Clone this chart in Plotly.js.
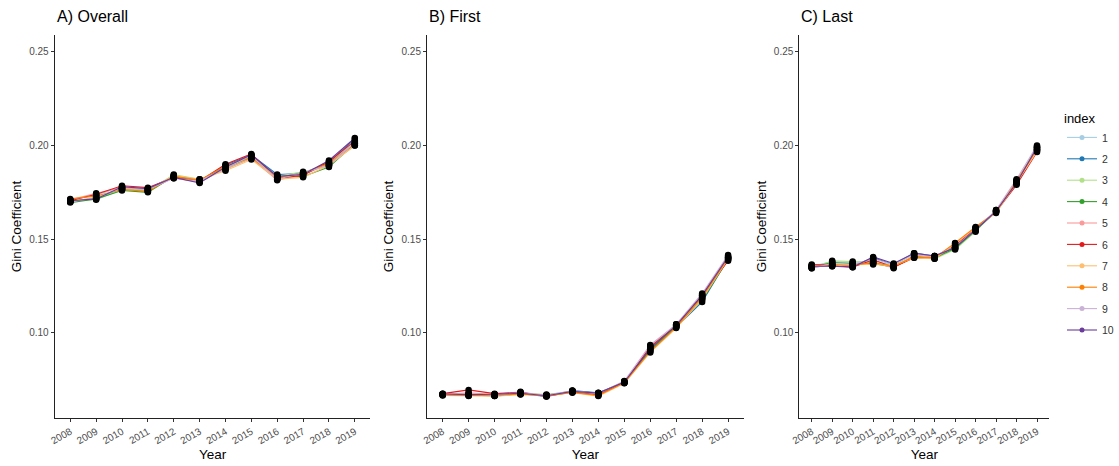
<!DOCTYPE html>
<html>
<head>
<meta charset="utf-8">
<script src="https://cdn.plot.ly/plotly-3.0.1.min.js"></script>
<style>html,body{margin:0;padding:0;background:#fff;}#chart{width:1119px;height:466px;}</style>
</head>
<body>
<div id="chart"></div>
<script>
const years = [2008,2009,2010,2011,2012,2013,2014,2015,2016,2017,2018,2019];
const seriesNames = ['1','2','3','4','5','6','7','8','9','10'];
const seriesColors = ['#A6CEE3','#1F78B4','#B2DF8A','#33A02C','#FB9A99','#E31A1C','#FDBF6F','#FF7F00','#CAB2D6','#6A3D9A'];
const panelTitles = ['A) Overall','B) First','C) Last'];
const yTickVals = [0.10,0.15,0.20,0.25];
const yTickText = ['0.10','0.15','0.20','0.25'];

// Panel A: Overall
const overall1  = [0.1710,0.1735,0.1780,0.1765,0.1840,0.1815,0.1885,0.1945,0.1840,0.1855,0.1905,0.2020];
const overall2  = [0.1700,0.1720,0.1770,0.1760,0.1830,0.1805,0.1895,0.1950,0.1845,0.1850,0.1910,0.2035];
const overall3  = [0.1705,0.1710,0.1765,0.1755,0.1845,0.1820,0.1870,0.1935,0.1835,0.1860,0.1890,0.2005];
const overall4  = [0.1695,0.1715,0.1760,0.1750,0.1835,0.1810,0.1880,0.1940,0.1830,0.1835,0.1885,0.2010];
const overall5  = [0.1710,0.1745,0.1775,0.1770,0.1825,0.1805,0.1875,0.1930,0.1815,0.1845,0.1900,0.2000];
const overall6  = [0.1705,0.1740,0.1785,0.1775,0.1830,0.1810,0.1900,0.1955,0.1825,0.1840,0.1915,0.2025];
const overall7  = [0.1700,0.1725,0.1770,0.1760,0.1840,0.1820,0.1865,0.1925,0.1820,0.1830,0.1895,0.2000];
const overall8  = [0.1715,0.1730,0.1765,0.1755,0.1835,0.1815,0.1890,0.1935,0.1830,0.1850,0.1905,0.2010];
const overall9  = [0.1700,0.1720,0.1775,0.1765,0.1825,0.1810,0.1880,0.1945,0.1820,0.1855,0.1895,0.2015];
const overall10 = [0.1705,0.1715,0.1780,0.1770,0.1830,0.1800,0.1885,0.1950,0.1835,0.1845,0.1920,0.2040];

// Panel B: First
const first1  = [0.0675,0.0670,0.0670,0.0680,0.0665,0.0690,0.0678,0.0738,0.0915,0.1040,0.1195,0.1405];
const first2  = [0.0670,0.0665,0.0665,0.0675,0.0660,0.0692,0.0680,0.0735,0.0905,0.1030,0.1165,0.1395];
const first3  = [0.0672,0.0672,0.0668,0.0678,0.0670,0.0688,0.0675,0.0732,0.0920,0.1045,0.1185,0.1400];
const first4  = [0.0668,0.0668,0.0663,0.0672,0.0668,0.0685,0.0670,0.0736,0.0910,0.1035,0.1175,0.1390];
const first5  = [0.0672,0.0680,0.0670,0.0685,0.0662,0.0686,0.0672,0.0740,0.0930,0.1042,0.1205,0.1410];
const first6  = [0.0675,0.0695,0.0675,0.0682,0.0660,0.0684,0.0668,0.0734,0.0925,0.1038,0.1200,0.1385];
const first7  = [0.0665,0.0662,0.0662,0.0670,0.0665,0.0680,0.0662,0.0730,0.0895,0.1025,0.1180,0.1395];
const first8  = [0.0668,0.0665,0.0666,0.0673,0.0663,0.0682,0.0665,0.0733,0.0900,0.1030,0.1190,0.1400];
const first9  = [0.0670,0.0675,0.0668,0.0680,0.0667,0.0690,0.0676,0.0742,0.0935,0.1045,0.1210,0.1415];
const first10 = [0.0673,0.0670,0.0672,0.0677,0.0664,0.0687,0.0678,0.0737,0.0915,0.1040,0.1200,0.1405];

// Panel C: Last
const last1  = [0.1355,0.1380,0.1375,0.1385,0.1360,0.1420,0.1405,0.1450,0.1545,0.1650,0.1810,0.1990];
const last2  = [0.1350,0.1360,0.1355,0.1400,0.1365,0.1425,0.1410,0.1455,0.1550,0.1645,0.1800,0.1985];
const last3  = [0.1345,0.1385,0.1380,0.1375,0.1355,0.1410,0.1395,0.1445,0.1540,0.1655,0.1805,0.1995];
const last4  = [0.1350,0.1375,0.1370,0.1370,0.1350,0.1405,0.1400,0.1450,0.1545,0.1650,0.1795,0.1980];
const last5  = [0.1360,0.1365,0.1360,0.1380,0.1345,0.1415,0.1405,0.1470,0.1560,0.1650,0.1815,0.1975];
const last6  = [0.1365,0.1360,0.1350,0.1390,0.1350,0.1400,0.1400,0.1465,0.1555,0.1645,0.1790,0.1965];
const last7  = [0.1355,0.1355,0.1365,0.1365,0.1360,0.1400,0.1395,0.1475,0.1560,0.1640,0.1800,0.1970];
const last8  = [0.1350,0.1365,0.1360,0.1375,0.1355,0.1405,0.1400,0.1480,0.1565,0.1645,0.1810,0.1980];
const last9  = [0.1345,0.1370,0.1365,0.1395,0.1365,0.1420,0.1410,0.1460,0.1550,0.1655,0.1820,0.2000];
const last10 = [0.1355,0.1355,0.1350,0.1405,0.1370,0.1425,0.1410,0.1455,0.1550,0.1650,0.1800,0.1990];

const panels = [
  [overall1,overall2,overall3,overall4,overall5,overall6,overall7,overall8,overall9,overall10],
  [first1,first2,first3,first4,first5,first6,first7,first8,first9,first10],
  [last1,last2,last3,last4,last5,last6,last7,last8,last9,last10]
];

const W = 1119, H = 466;
const xDomPx = [[55,372],[429,747],[803,1054]];
const yDomPx = [35,418];

const traces = [];
panels.forEach((series, p) => {
  const xa = p === 0 ? 'x' : 'x' + (p + 1);
  const ya = p === 0 ? 'y' : 'y' + (p + 1);
  series.forEach((vals, i) => {
    traces.push({
      type: 'scatter', mode: 'lines+markers', x: years, y: vals, xaxis: xa, yaxis: ya,
      name: seriesNames[i], legendgroup: 'g' + i, showlegend: p === 0,
      line: {color: seriesColors[i], width: 1.1},
      marker: {color: seriesColors[i], size: 5},
      hoverinfo: 'x+y+name'
    });
  });
  series.forEach((vals, i) => {
    traces.push({
      type: 'scatter', mode: 'markers', x: years, y: vals, xaxis: xa, yaxis: ya,
      name: seriesNames[i], legendgroup: 'g' + i, showlegend: false,
      marker: {color: '#000000', size: 6.5},
      hoverinfo: 'skip'
    });
  });
});

const font = {family: 'Liberation Sans, Arial, sans-serif', color: '#000'};
const layout = {
  width: W, height: H,
  margin: {l: 0, r: 0, t: 0, b: 0, pad: 0},
  paper_bgcolor: '#fff', plot_bgcolor: '#fff',
  font: font,
  showlegend: true,
  legend: {
    x: 1067 / W, xanchor: 'left', y: (H - 106) / H, yanchor: 'top',
    title: {text: 'index', font: {size: 13, color: '#000'}},
    font: {size: 10.5, color: '#333'},
    tracegroupgap: 2.4,
    bgcolor: 'rgba(0,0,0,0)'
  },
  annotations: []
};

for (let p = 0; p < 3; p++) {
  const sfx = p === 0 ? '' : String(p + 1);
  layout['xaxis' + sfx] = {
    domain: [xDomPx[p][0] / W, xDomPx[p][1] / W],
    anchor: 'y' + sfx,
    range: [2007.4, 2019.6],
    tickvals: years, ticktext: years.map(String),
    tickangle: -30,
    tickfont: {size: 10, color: '#4D4D4D'},
    ticks: 'outside', ticklen: 3, tickcolor: '#333', tickwidth: 1,
    showline: true, linecolor: '#222', linewidth: 1.2,
    showgrid: false, zeroline: false, automargin: false,
    title: {text: 'Year', font: {size: 13.5, color: '#000'}, standoff: 4}
  };
  layout['yaxis' + sfx] = {
    domain: [(H - yDomPx[1]) / H, (H - yDomPx[0]) / H],
    anchor: 'x' + sfx,
    range: [0.0545, 0.259],
    tickvals: yTickVals, ticktext: yTickText,
    tickfont: {size: 10, color: '#4D4D4D'},
    ticks: 'outside', ticklen: 3, tickcolor: '#333', tickwidth: 1,
    showline: true, linecolor: '#222', linewidth: 1.2,
    showgrid: false, zeroline: false, automargin: false,
    title: {text: 'Gini Coefficient', font: {size: 13.5, color: '#000'}, standoff: 4}
  };
  layout.annotations.push({
    text: panelTitles[p], xref: 'paper', yref: 'paper',
    x: xDomPx[p][0] / W, y: (H - 17) / H, xanchor: 'left', yanchor: 'middle',
    showarrow: false, font: {size: 16, color: '#000'}
  });
}

Plotly.newPlot('chart', traces, layout, {displayModeBar: false, staticPlot: false});
</script>
</body>
</html>
